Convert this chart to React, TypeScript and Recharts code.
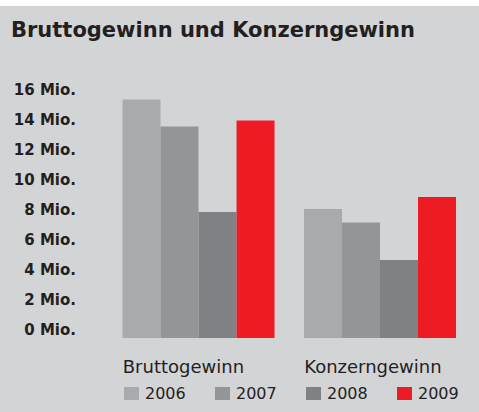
import { BarChart, Bar, XAxis, YAxis } from 'recharts';

const categories = ['Bruttogewinn', 'Konzerngewinn'];
const years = ['2006', '2007', '2008', '2009'];
const values2006 = [15.9, 8.6];
const values2007 = [14.1, 7.7];
const values2008 = [8.4, 5.2];
const values2009 = [14.5, 9.4];
const yTicks = [0, 2, 4, 6, 8, 10, 12, 14, 16];

const colors = ['#a9aaad', '#949598', '#808184', '#ed1c24'];
const series = [values2006, values2007, values2008, values2009];

const data = categories.map((name, i) => {
  const row: Record<string, string | number> = { name };
  years.forEach((y, j) => {
    row[y] = series[j][i];
  });
  return row;
});

const FONT = '"DejaVu Sans", sans-serif';
const TEXT = '#231f20';

function YTick(props: any) {
  const { y, payload } = props;
  return (
    <text x={76} y={y - 8} dy="0.35em" textAnchor="end" fontFamily={FONT} fontWeight={700} fontSize={15} fill={TEXT}>
      {payload.value} Mio.
    </text>
  );
}

function XTick(props: any) {
  const { x, y, payload } = props;
  return (
    <text x={x - 76} y={y + 27} textAnchor="start" fontFamily={FONT} fontSize={18} fill={TEXT}>
      {payload.value}
    </text>
  );
}

export default function App() {
  return (
    <div style={{ position: 'absolute', left: 0, top: 0, width: 479, height: 412, background: '#fff' }}>
      <div style={{ position: 'absolute', left: 0, top: 6, width: 479, height: 406, background: '#d3d4d6' }} />
      <div
        style={{
          position: 'absolute',
          left: 11,
          top: 16,
          fontFamily: FONT,
          fontWeight: 700,
          fontSize: 21,
          color: TEXT,
          lineHeight: '28px',
          whiteSpace: 'nowrap',
        }}
      >
        Bruttogewinn und Konzerngewinn
      </div>
      <div style={{ position: 'absolute', left: 0, top: 0 }}>
        <BarChart
          width={479}
          height={412}
          data={data}
          margin={{ top: 98, right: 8, bottom: 0, left: 0 }}
          barCategoryGap="8%"
          barGap={0}
        >
          <XAxis dataKey="name" axisLine={false} tickLine={false} tick={<XTick />} interval={0} height={74} />
          <YAxis
            domain={[0, 16]}
            ticks={yTicks}
            axisLine={false}
            tickLine={false}
            tick={<YTick />}
            width={108}
            interval={0}
          />
          {years.map((y, j) => (
            <Bar key={y} dataKey={y} name={y} fill={colors[j]} isAnimationActive={false} />
          ))}
        </BarChart>
      </div>
      <div
        style={{
          position: 'absolute',
          left: 124,
          top: 384,
          display: 'flex',
          fontFamily: FONT,
          fontSize: 16,
          color: TEXT,
        }}
      >
        {years.map((y, j) => (
          <div key={y} style={{ width: 91, display: 'flex', alignItems: 'center' }}>
            <span style={{ display: 'inline-block', width: 15, height: 13, background: colors[j], marginRight: 6 }} />
            <span style={{ lineHeight: '19px' }}>{y}</span>
          </div>
        ))}
      </div>
    </div>
  );
}
